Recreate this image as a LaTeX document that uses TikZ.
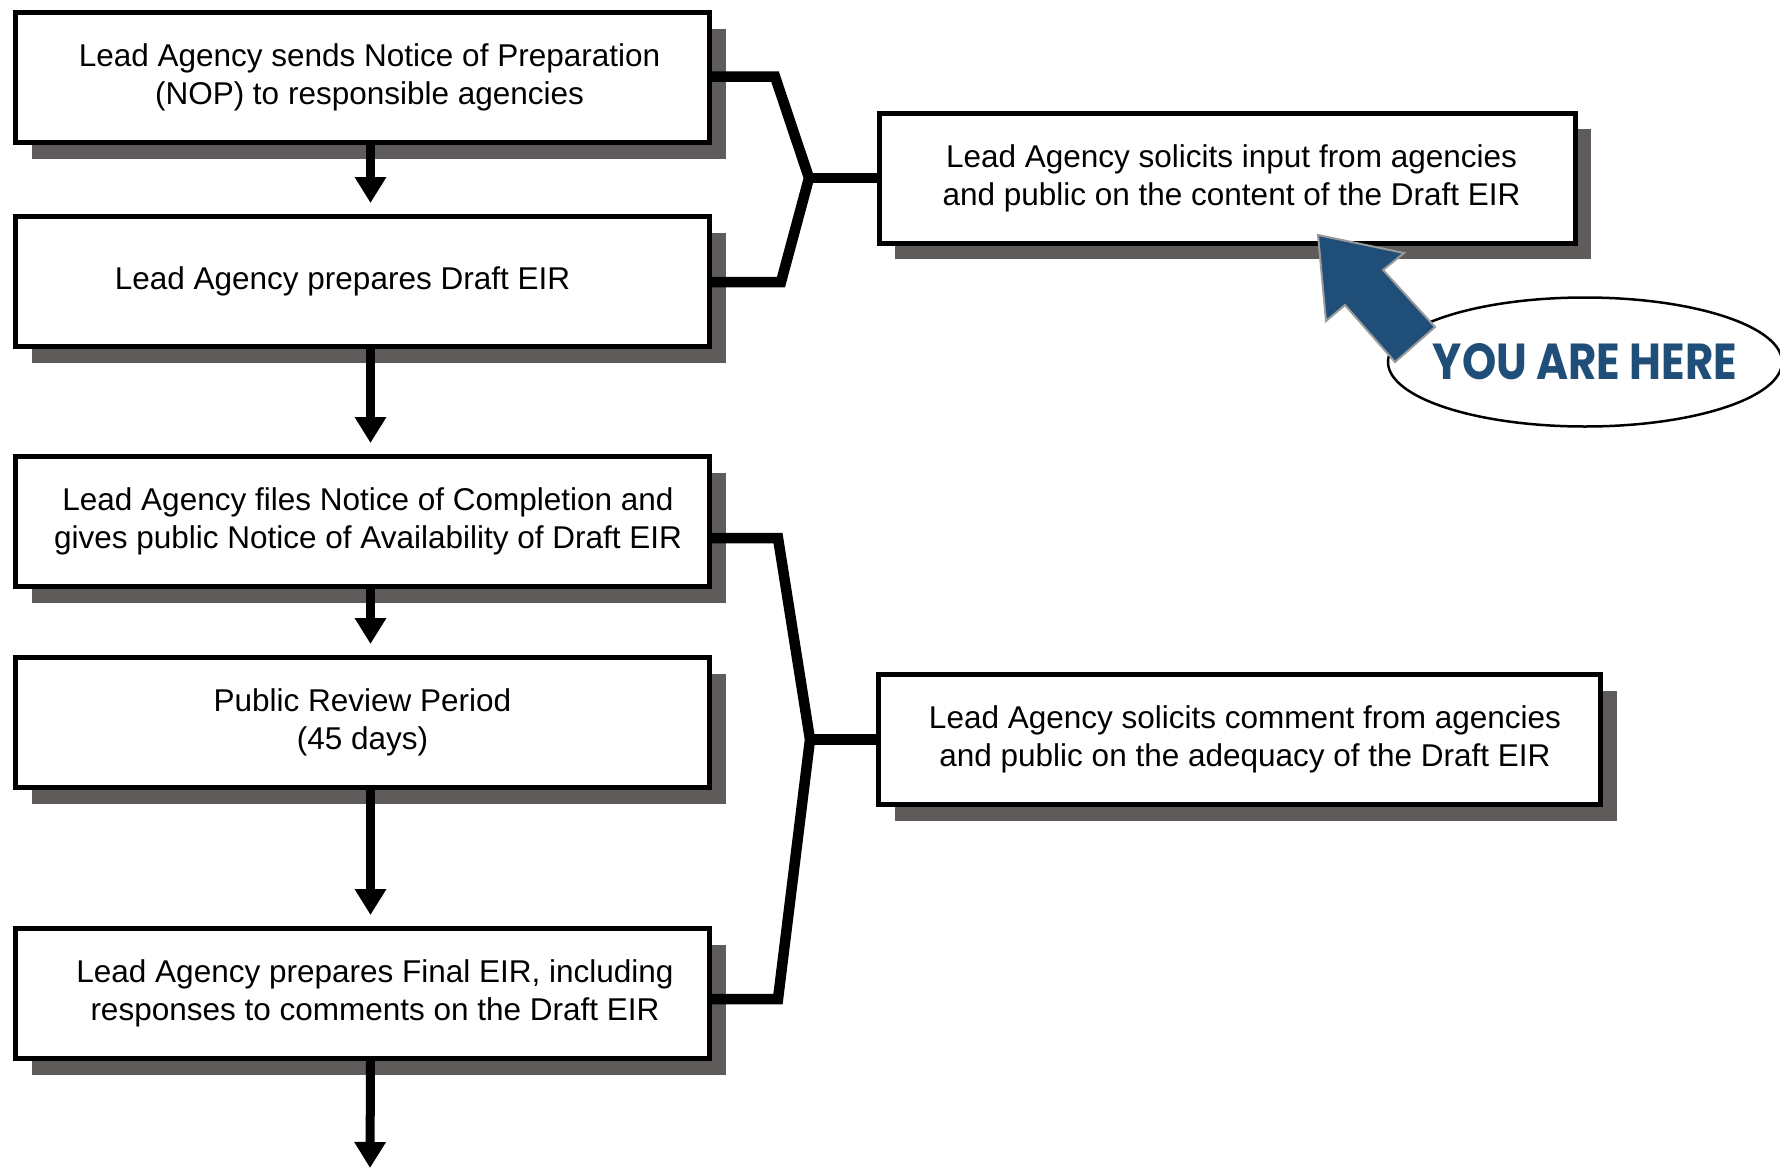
\documentclass[tikz,border=0pt]{standalone}
\usepackage{fontspec}
\setmainfont{Liberation Sans}
\newfontfamily\herefont{Poppins}
\usetikzlibrary{arrows.meta,shadows,shapes.geometric}
\definecolor{shadowgray}{HTML}{5F5B5B}
\definecolor{hereblue}{HTML}{1F4E79}
\definecolor{arrowedge}{HTML}{9A9A9A}
\newcommand{\lsh}[1]{\hspace*{#1}}
\begin{document}
\begin{tikzpicture}[x=1pt,y=-1pt,
  box/.style={draw=black, line width=5pt, fill=white, rectangle, inner sep=0pt,
    minimum width=#1, minimum height=130pt, align=center,
    font=\fontsize{31.5pt}{38pt}\selectfont,
    drop shadow={shadow xshift=16pt, shadow yshift=-16pt, fill=shadowgray, opacity=1}},
  box/.default=694pt,
  flow/.style={line width=9pt, -{Triangle[width=30pt,length=26pt]}, shorten >=11pt},
  brace/.style={line width=10.5pt, line join=miter}]
\useasboundingbox (0,0) rectangle (1780,1170);

% main column
\node[box] (b1) at (362.5,77.5) {\lsh{14pt}Lead Agency sends Notice of Preparation\\\lsh{14pt}(NOP) to responsible agencies};
\node[box] (b2) at (362.5,281.5) {Lead Agency prepares Draft EIR\hspace*{40pt}};
\node[box] (b3) at (362.5,521.5) {\lsh{11pt}Lead Agency files Notice of Completion and\\\lsh{11pt}gives public Notice of Availability of Draft EIR};
\node[box] (b4) at (362.5,722.5) {Public Review Period\\(45 days)};
\node[box] (b5) at (362.5,993.5) {\lsh{25pt}Lead Agency prepares Final EIR, including\\\lsh{25pt}responses to comments on the Draft EIR};

% right column
\node[box=696pt] (ra) at (1227,178) {\lsh{9pt}Lead Agency solicits input from agencies\\\lsh{9pt}and public on the content of the Draft EIR};
\node[box=722pt] (rb) at (1239.5,739.5) {\lsh{11pt}Lead Agency solicits comment from agencies\\\lsh{11pt}and public on the adequacy of the Draft EIR};

% flow arrows
\coordinate (tail) at (370,1168);
\draw[flow] ([xshift=8pt]b1.south) -- ([xshift=8pt]b2.north);
\draw[flow] ([xshift=8pt]b2.south) -- ([xshift=8pt]b3.north);
\draw[flow] ([xshift=8pt]b3.south) -- ([xshift=8pt]b4.north);
\draw[flow] ([xshift=8pt]b4.south) -- ([xshift=8pt]b5.north);
\draw[flow, shorten >=0pt] ([xshift=8pt]b5.south) -- (tail);

% brackets
\draw[brace] ([yshift=1pt]b1.east) -- (775,76.5) -- (809,178) -- (781,282) -- ([yshift=-0.5pt]b2.east);
\draw[brace] (809,178) -- (ra.west);
\draw[brace] ([yshift=-16.5pt]b3.east) -- (778,538) -- (810,739.5) -- (778,999) -- ([yshift=-5.5pt]b5.east);
\draw[brace] (810,739.5) -- (rb.west);

% you are here
\node[draw=black, line width=2.5pt, fill=white, ellipse, inner sep=0pt,
  minimum width=394pt, minimum height=129pt] (here) at (1585,362)
  {\makebox[0pt]{\textcolor{hereblue}{\resizebox{304pt}{36pt}{\herefont\bfseries YOU ARE HERE}}}};
\draw[fill=hereblue, draw=arrowedge, line width=2pt, line join=miter]
  (1318,235) -- (1404,253) -- (1383,270) -- (1435,327) -- (1395,362)
  -- (1345,305) -- (1326,321) -- cycle;
\end{tikzpicture}
\end{document}
